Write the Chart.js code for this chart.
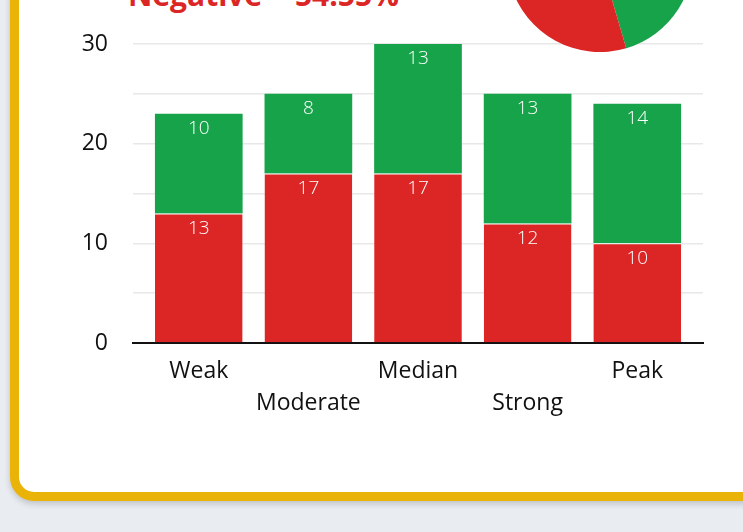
<!DOCTYPE html>
<html>
<head>
<meta charset="utf-8">
<script src="https://cdn.jsdelivr.net/npm/chart.js@4.4.1/dist/chart.umd.min.js"></script>
<style>
  html, body { margin: 0; padding: 0; overflow: hidden; width: 743px; height: 532px; background: #e9edf1; }
  .card {
    position: absolute; left: 10px; top: -300px; width: 900px; height: 801px;
    box-sizing: border-box; border: 9px solid #eab308; border-radius: 24px;
    background: #fff; box-shadow: 0 3px 6px rgba(0, 0, 0, 0.18);
  }
  .title {
    position: absolute; left: 128px; top: -20px; white-space: nowrap;
    font: 700 30px "Open Sans", sans-serif; line-height: 30px; color: #dc2626;
  }
  #pieBox { position: absolute; left: 507px; top: -134px; width: 186px; height: 186px; z-index: 2; }
  #barBox { position: absolute; left: 0; top: 0; width: 743px; height: 423px; z-index: 1; }
</style>
</head>
<body>
<div class="card"></div>
<div class="title">Negative = 54.55%</div>
<div id="barBox"><canvas id="barChart"></canvas></div>
<div id="pieBox"><canvas id="pieChart"></canvas></div>

<script>
/* Data */
const categories = ["Weak", "Moderate", "Median", "Strong", "Peak"];
const negativeValues = [13, 17, 17, 12, 10];
const positiveValues = [10, 8, 13, 13, 14];
const pieLabels = ["Positive", "Negative"];
const pieValues = [45.45, 54.55];
const yLabels = [0, 10, 20, 30];

const RED = "#dc2626";
const GREEN = "#16a34a";
const FONT = '"Open Sans", sans-serif';

Chart.defaults.font.family = FONT;

const toPoints = (arr) => arr.map((v, i) => ({ x: i, y: v }));

/* white numbers at the top of each segment */
const segmentLabels = {
  id: "segmentLabels",
  afterDatasetsDraw(chart) {
    const { ctx } = chart;
    ctx.save();
    ctx.font = `300 19px ${FONT}`;
    ctx.fillStyle = "#fff";
    ctx.textAlign = "center";
    ctx.textBaseline = "middle";
    chart.data.datasets.forEach((ds, i) => {
      chart.getDatasetMeta(i).data.forEach((bar, j) => {
        ctx.fillText(ds.data[j].y, bar.x, bar.y + 15);
      });
    });
    ctx.restore();
  },
};

/* Bar chart */
new Chart(document.querySelector("#barChart"), {
  type: "bar",
  data: {
    datasets: [
      {
        label: "Negative",
        data: toPoints(negativeValues),
        backgroundColor: RED,
        borderColor: "#fff",
        borderWidth: { top: 1, right: 0, bottom: 0, left: 0 },
        barPercentage: 1,
        categoryPercentage: 0.8,
      },
      {
        label: "Positive",
        data: toPoints(positiveValues),
        backgroundColor: GREEN,
        borderWidth: 0,
        barPercentage: 1,
        categoryPercentage: 0.8,
      },
    ],
  },
  options: {
    responsive: true,
    maintainAspectRatio: false,
    animation: false,
    layout: { padding: { top: 44, right: 40, bottom: 0, left: 0 } },
    plugins: {
      legend: { display: false },
      tooltip: { enabled: false },
    },
    scales: {
      x: {
        type: "linear",
        min: -0.6,
        max: 4.6,
        offset: false,
        stacked: true,
        grid: { display: false },
        border: { color: "#111", width: 2 },
        afterBuildTicks: (scale) => {
          scale.ticks = categories.map((_, i) => ({ value: i }));
        },
        afterFit: (scale) => { scale.height = 80; },
        ticks: {
          color: "#111",
          font: { size: 23, lineHeight: 1.4 },
          padding: 4,
          maxRotation: 0,
          autoSkip: false,
          callback: (v) => (v % 2 ? ["", categories[v]] : categories[v]),
        },
      },
      y: {
        stacked: true,
        min: 0,
        max: 30,
        grid: { color: "#e8e8e8", lineWidth: 1.5, drawTicks: false },
        border: { display: false },
        afterFit: (scale) => { scale.width = 133; },
        ticks: {
          stepSize: 5,
          color: "#111",
          font: { size: 23 },
          padding: 25,
          callback: (v) => (yLabels.includes(v) ? v : ""),
        },
      },
    },
  },
  plugins: [segmentLabels],
});

/* Pie */
new Chart(document.querySelector("#pieChart"), {
  type: "pie",
  data: {
    labels: pieLabels,
    datasets: [
      {
        data: pieValues,
        backgroundColor: [GREEN, RED],
        borderWidth: 0,
      },
    ],
  },
  options: {
    responsive: true,
    maintainAspectRatio: false,
    animation: false,
    layout: { padding: 0 },
    plugins: {
      legend: { display: false },
      tooltip: { enabled: false },
    },
  },
});
</script>
</body>
</html>
